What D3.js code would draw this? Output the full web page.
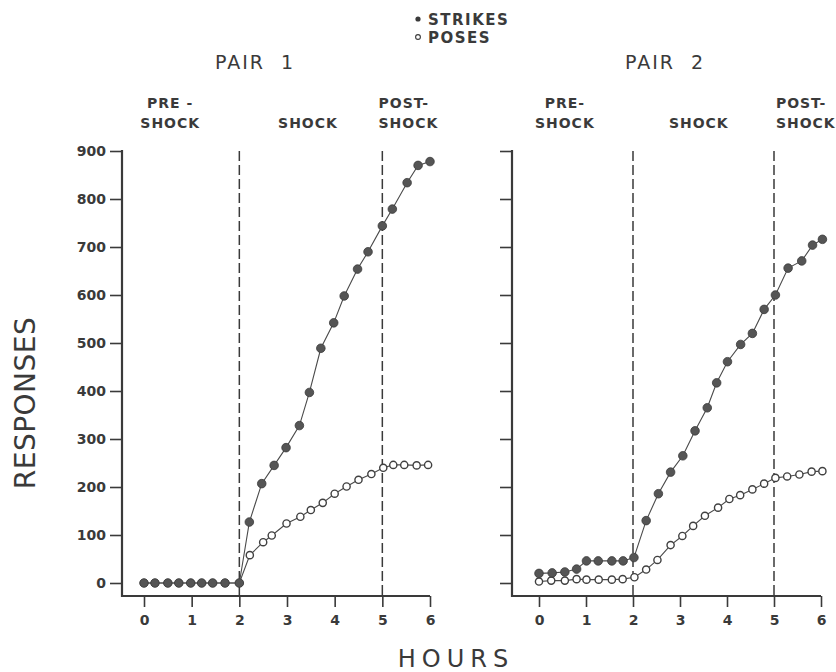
<!DOCTYPE html>
<html lang="en">
<head>
    <meta charset="UTF-8">
    <title>Strikes and poses, pairs 1 and 2</title>
    <script src="https://d3js.org/d3.v7.min.js"></script>
    <style>
        body { margin: 0; background: #fff; }
        text { font-family: "DejaVu Sans", sans-serif; fill: #3a3a3a; }
    </style>
</head>
<body>

<script>

    // ticks and phase boundaries (hours)
    const hourTicks = [0, 1, 2, 3, 4, 5, 6];
    const responseTicks = [0, 100, 200, 300, 400, 500, 600, 700, 800, 900];
    const phaseBounds = [2, 5];

    // pair 1
    const pair1StrikeHours = [0, 0.23, 0.5, 0.73, 0.98, 1.21, 1.44, 1.7, 2.0, 2.21, 2.47, 2.73, 2.98, 3.26, 3.47, 3.71, 3.98, 4.2, 4.48, 4.7, 5.0, 5.21, 5.52, 5.75, 6.0];
    const pair1Strikes = [0, 0, 0, 0, 0, 0, 0, 0, 0, 127, 207, 245, 282, 328, 397, 489, 542, 598, 654, 690, 744, 779, 834, 870, 878];
    const pair1PoseHours = [0, 0.23, 0.5, 0.73, 0.98, 1.21, 1.44, 1.7, 2.0, 2.22, 2.5, 2.68, 2.99, 3.28, 3.5, 3.75, 4.0, 4.25, 4.5, 4.77, 5.02, 5.23, 5.46, 5.72, 5.96];
    const pair1Poses = [0, 0, 0, 0, 0, 0, 0, 0, 0, 58, 85, 99, 124, 138, 152, 167, 186, 201, 215, 227, 240, 246, 246, 245, 246];

    // pair 2
    const pair2StrikeHours = [0, 0.28, 0.55, 0.8, 1.01, 1.26, 1.55, 1.79, 2.02, 2.28, 2.54, 2.8, 3.06, 3.32, 3.58, 3.78, 4.01, 4.29, 4.54, 4.79, 5.03, 5.3, 5.59, 5.82, 6.03];
    const pair2Strikes = [20, 21, 23, 29, 46, 46, 46, 46, 53, 130, 186, 231, 265, 317, 365, 417, 461, 497, 520, 570, 600, 656, 671, 704, 716];
    const pair2PoseHours = [0, 0.26, 0.55, 0.8, 1.01, 1.27, 1.55, 1.78, 2.03, 2.28, 2.52, 2.8, 3.05, 3.28, 3.53, 3.81, 4.05, 4.28, 4.54, 4.79, 5.03, 5.28, 5.54, 5.8, 6.03];
    const pair2Poses = [3, 5, 5, 8, 7, 7, 7, 8, 12, 28, 48, 79, 98, 119, 140, 157, 175, 183, 195, 207, 219, 222, 226, 232, 233];

    const zip = (hs, vs) => hs.map((h, i) => ({h: h, v: vs[i]}));

    const width = 836;
    const height = 672;
    const baseY = 596;
    const ink = '#3a3a3a';

    const svg = d3.select('body').append('svg')
        .attr('width', width)
        .attr('height', height);

    const yScale = d3.scaleLinear().domain([0, 900]).range([583, 151]);

    const panels = [
        {title: 'PAIR 1', axisX: 122, range: [144, 430], showLabels: true, titleX: 255,
         pre: 'PRE -', preAt: 0.55, shockAt: 3.44, postAt: 4.92,
         strikes: zip(pair1StrikeHours, pair1Strikes), poses: zip(pair1PoseHours, pair1Poses)},
        {title: 'PAIR 2', axisX: 512, range: [539, 821], showLabels: false, titleX: 665,
         pre: 'PRE-', preAt: 0.55, shockAt: 3.40, postAt: 5.04,
         strikes: zip(pair2StrikeHours, pair2Strikes), poses: zip(pair2PoseHours, pair2Poses)}
    ];

    panels.forEach(p => {
        const g = svg.append('g');
        const x = d3.scaleLinear().domain([0, 6]).range(p.range);

        // y axis
        const yAxis = g.append('g')
            .attr('transform', `translate(${p.axisX},0)`)
            .call(d3.axisLeft(yScale)
                .tickValues(responseTicks)
                .tickSize(12)
                .tickPadding(4)
                .tickFormat(p.showLabels ? d3.format('d') : ''));

        // x axis
        const xAxis = g.append('g')
            .attr('transform', `translate(0,${baseY})`)
            .call(d3.axisBottom(x)
                .tickValues(hourTicks)
                .tickSize(11)
                .tickPadding(8)
                .tickFormat(d3.format('d')));

        [yAxis, xAxis].forEach(a => {
            a.select('.domain').remove();
            a.selectAll('.tick line').attr('stroke', ink).attr('stroke-width', 1.6);
            a.selectAll('.tick text')
                .style('font-family', '"DejaVu Sans", sans-serif')
                .style('font-size', '14px')
                .style('font-weight', 'bold')
                .attr('fill', ink);
        });

        // L shaped frame
        g.append('path')
            .attr('d', `M${p.axisX},${yScale(900) - 1}V${baseY}H${x(6)}`)
            .attr('fill', 'none')
            .attr('stroke', ink)
            .attr('stroke-width', 2.2);

        // phase boundaries
        g.selectAll('line.phase')
            .data(phaseBounds)
            .enter()
            .append('line')
            .classed('phase', true)
            .attr('x1', d => x(d))
            .attr('x2', d => x(d))
            .attr('y1', yScale(900))
            .attr('y2', baseY)
            .attr('stroke', ink)
            .attr('stroke-width', 1.5)
            .attr('stroke-dasharray', '10,4');

        const line = d3.line().x(d => x(d.h)).y(d => yScale(d.v));

        // poses first so the strikes sit on top where they overlap
        g.append('path')
            .datum(p.poses)
            .attr('d', line)
            .attr('fill', 'none')
            .attr('stroke', '#4a4a4a')
            .attr('stroke-width', 1.1);

        g.append('g')
            .selectAll('circle')
            .data(p.poses)
            .enter()
            .append('circle')
            .attr('cx', d => x(d.h))
            .attr('cy', d => yScale(d.v))
            .attr('r', 3.6)
            .attr('fill', '#fff')
            .attr('stroke', '#404040')
            .attr('stroke-width', 1.4);

        g.append('path')
            .datum(p.strikes)
            .attr('d', line)
            .attr('fill', 'none')
            .attr('stroke', '#4a4a4a')
            .attr('stroke-width', 1.1);

        g.append('g')
            .selectAll('circle')
            .data(p.strikes)
            .enter()
            .append('circle')
            .attr('cx', d => x(d.h))
            .attr('cy', d => yScale(d.v))
            .attr('r', 4.3)
            .attr('fill', '#555')
            .attr('stroke', '#3a3a3a')
            .attr('stroke-width', 0.8);

        // titles
        g.append('text')
            .text(p.title)
            .attr('x', p.titleX)
            .attr('y', 69)
            .attr('text-anchor', 'middle')
            .style('font-size', '19px')
            .style('letter-spacing', '2px')
            .style('word-spacing', '8px');

        const phase = (txt, hx, yy, anchor) => g.append('text')
            .text(txt)
            .attr('x', x(hx))
            .attr('y', yy)
            .attr('text-anchor', anchor)
            .style('font-size', '14px')
            .style('font-weight', 'bold')
            .style('letter-spacing', '1px');

        phase(p.pre, p.preAt, 108, 'middle');
        phase('SHOCK', p.preAt, 128, 'middle');
        phase('SHOCK', p.shockAt, 128, 'middle');
        phase('POST-', p.postAt, 108, 'start');
        phase('SHOCK', p.postAt, 128, 'start');
    });

    // legend
    const legend = svg.append('g');
    legend.append('circle').attr('cx', 418).attr('cy', 19).attr('r', 2.6).attr('fill', ink);
    legend.append('circle').attr('cx', 418).attr('cy', 37).attr('r', 2.4)
        .attr('fill', '#fff').attr('stroke', ink).attr('stroke-width', 1.1);
    legend.selectAll('text')
        .data(['STRIKES', 'POSES'])
        .enter()
        .append('text')
        .text(d => d)
        .attr('x', 428)
        .attr('y', (d, i) => 25 + i * 18)
        .style('font-size', '15px')
        .style('font-weight', 'bold')
        .style('letter-spacing', '1.5px');

    // axis titles
    svg.append('text')
        .text('RESPONSES')
        .attr('transform', 'translate(35,403) rotate(-90)')
        .attr('text-anchor', 'middle')
        .style('font-size', '28px')
        .style('letter-spacing', '0.5px');

    svg.append('text')
        .text('HOURS')
        .attr('x', 456)
        .attr('y', 667)
        .attr('text-anchor', 'middle')
        .style('font-size', '24px')
        .style('letter-spacing', '6px');

</script>

</body>
</html>
